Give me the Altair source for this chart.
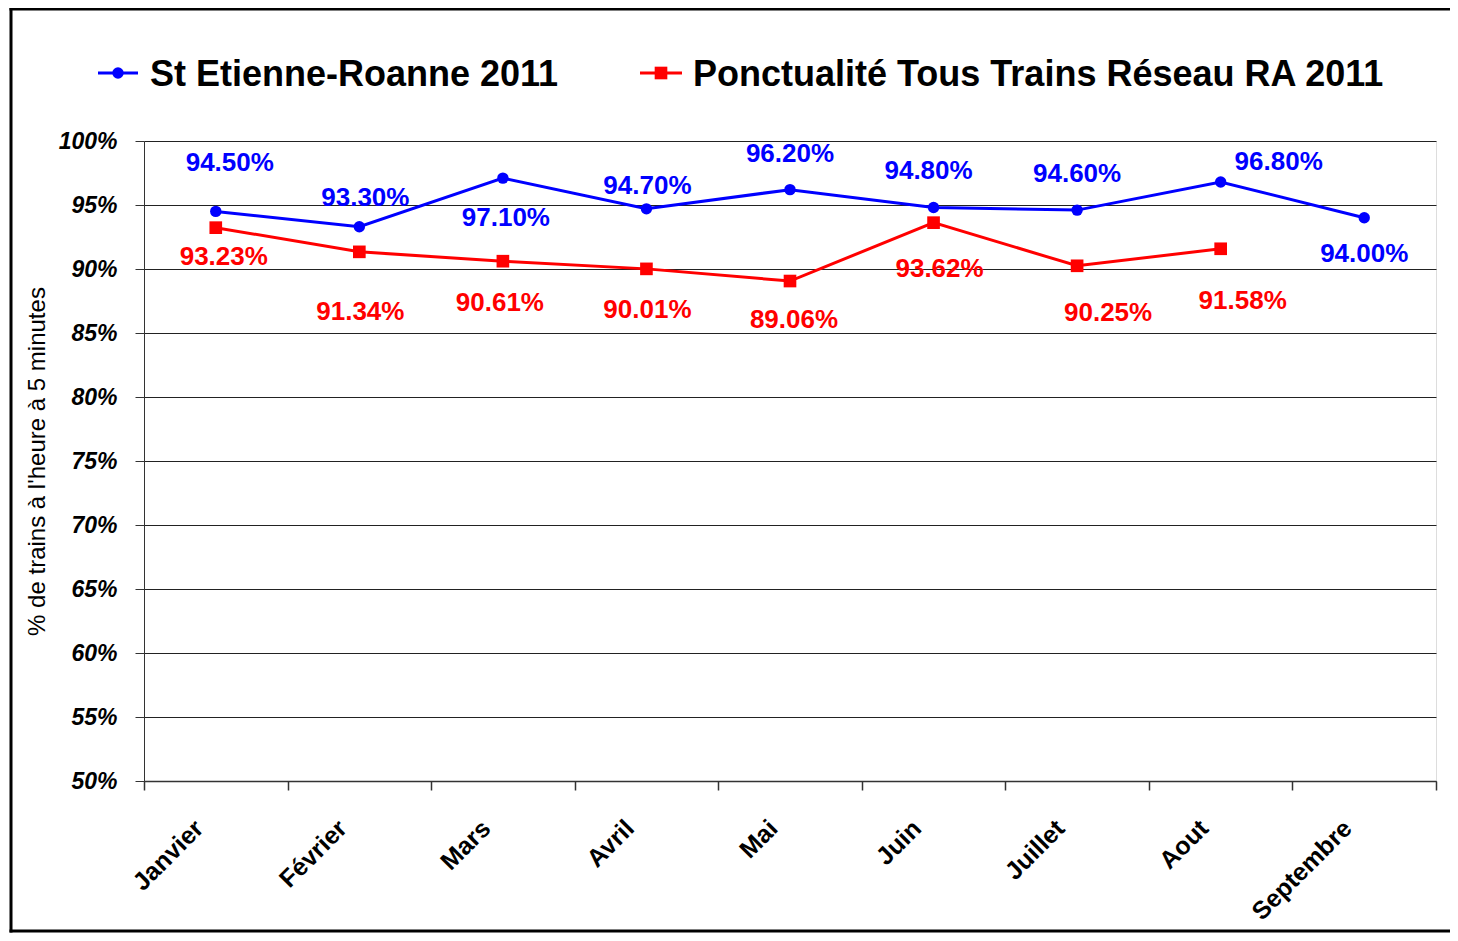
import altair as alt
import pandas as pd

months = ["Janvier", "Février", "Mars", "Avril", "Mai", "Juin", "Juillet", "Aout", "Septembre"]
series_names = ["St Etienne-Roanne 2011", "Ponctualité Tous Trains Réseau RA 2011"]
st_etienne = [94.50, 93.30, 97.10, 94.70, 96.20, 94.80, 94.60, 96.80, 94.00]
reseau_ra = [93.23, 91.34, 90.61, 90.01, 89.06, 93.62, 90.25, 91.58]
y_ticks = [50, 55, 60, 65, 70, 75, 80, 85, 90, 95, 100]

# data-label offsets (px) relative to each point, as placed in the original
st_dx = [14, 6, 3, 1, 0, -5, 0, 58, 0]
st_dy = [-48, -29, 40, -23, -36, -37, -36, -20, 36]
ra_dx = [8, 1, -3, 1, 4, 6, 31, 22]
ra_dy = [29, 60, 42, 41, 39, 46, 47, 52]

BLUE = "#0000FF"
RED = "#FF0000"
FONT = "Liberation Sans"

rows = []
for i, v in enumerate(st_etienne):
    rows.append({"month": months[i], "value": v, "series": series_names[0],
                 "label": f"{v:.2f}%", "key": f"s{i}"})
for i, v in enumerate(reseau_ra):
    rows.append({"month": months[i], "value": v, "series": series_names[1],
                 "label": f"{v:.2f}%", "key": f"r{i}"})
df = pd.DataFrame(rows)

x_enc = alt.X(
    "month:N",
    sort=months,
    scale=alt.Scale(type="band", domain=months, paddingInner=0, paddingOuter=0),
    axis=alt.Axis(
        title=None, grid=False, labelAngle=-45, labelAlign="right", labelBaseline="middle",
        labelFont=FONT, labelFontSize=25, labelFontWeight="bold", labelColor="black",
        labelPadding=34, labelOffset=-17, tickBand="extent", tickSize=9, tickColor="#333",
        domainColor="#333", tickWidth=1.5, domainWidth=1.5,
    ),
)
y_enc = alt.Y(
    "value:Q",
    scale=alt.Scale(domain=[50, 100], nice=False, zero=False),
    axis=alt.Axis(
        values=y_ticks, labelExpr="datum.value + '%'",
        labelFont=FONT, labelFontSize=23, labelFontWeight="bold", labelFontStyle="italic",
        labelColor="black", labelPadding=18, tickSize=9, tickColor="#333",
        domainColor="#333", grid=True, gridColor="#222", gridWidth=1,
        title="% de trains à l'heure à 5 minutes", titleFont=FONT, titleFontSize=24,
        titleFontWeight="normal", titleColor="black", titleAngle=270,
        titleX=-107, titleY=320, titleAlign="center", titleBaseline="middle",
    ),
)

base = alt.Chart(df)
blue = base.transform_filter(alt.datum.series == series_names[0])
red = base.transform_filter(alt.datum.series == series_names[1])

layers = [
    blue.mark_line(color=BLUE, strokeWidth=3).encode(x=x_enc, y=y_enc),
    red.mark_line(color=RED, strokeWidth=3).encode(x=x_enc, y=y_enc),
    blue.mark_point(shape="circle", filled=True, color=BLUE, size=130, opacity=1).encode(x=x_enc, y=y_enc),
    red.mark_point(shape="square", filled=True, color=RED, size=160, opacity=1).encode(x=x_enc, y=y_enc),
]

for i in range(len(st_etienne)):
    layers.append(
        base.transform_filter(alt.datum.key == f"s{i}")
        .mark_text(font=FONT, fontSize=26, fontWeight="bold", color=BLUE,
                   dx=st_dx[i], dy=st_dy[i], baseline="middle", align="center")
        .encode(x=x_enc, y=y_enc, text="label:N")
    )
for i in range(len(reseau_ra)):
    layers.append(
        base.transform_filter(alt.datum.key == f"r{i}")
        .mark_text(font=FONT, fontSize=26, fontWeight="bold", color=RED,
                   dx=ra_dx[i], dy=ra_dy[i], baseline="middle", align="center")
        .encode(x=x_enc, y=y_enc, text="label:N")
    )

# custom legend (line + marker + text), placed above the plot
leg = alt.Chart(pd.DataFrame({"name": series_names, "idx": [0, 1]}))
leg0 = leg.transform_filter(alt.datum.idx == 0)
leg1 = leg.transform_filter(alt.datum.idx == 1)
layers += [
    leg0.mark_rule(color=BLUE, strokeWidth=3).encode(x=alt.value(-46), x2=alt.value(-6), y=alt.value(-68)),
    leg0.mark_point(shape="circle", filled=True, color=BLUE, size=130, opacity=1).encode(x=alt.value(-26), y=alt.value(-68)),
    leg0.mark_text(font=FONT, fontSize=36, fontWeight="bold", color="black", align="left", baseline="middle")
        .encode(x=alt.value(6), y=alt.value(-66), text="name:N"),
    leg1.mark_rule(color=RED, strokeWidth=3).encode(x=alt.value(496), x2=alt.value(538), y=alt.value(-68)),
    leg1.mark_point(shape="square", filled=True, color=RED, size=160, opacity=1).encode(x=alt.value(517), y=alt.value(-68)),
    leg1.mark_text(font=FONT, fontSize=36, fontWeight="bold", color="black", align="left", baseline="middle")
        .encode(x=alt.value(549), y=alt.value(-66), text="name:N"),
]

# outer frame of the chart (left, top, bottom edges; right edge lies beyond the picture)
fr = alt.Chart(pd.DataFrame({"a": [0]}))
layers += [
    fr.mark_rule(color="black", strokeWidth=3).encode(x=alt.value(-133), y=alt.value(-133.5), y2=alt.value(791.5)),
    fr.mark_rule(color="black", strokeWidth=3).encode(x=alt.value(-134.5), x2=alt.value(1320), y=alt.value(-132)),
    fr.mark_rule(color="black", strokeWidth=3).encode(x=alt.value(-134.5), x2=alt.value(1320), y=alt.value(790)),
]

chart = alt.layer(*layers).properties(
    width=1292, height=640,
    autosize=alt.AutoSizeParams(type="none"),
    padding={"left": 136, "top": 133, "right": 14, "bottom": 152},
).configure_view(stroke=None).configure(background="white")

chart.save("out.html", embed_options={"renderer": "svg", "actions": False})
